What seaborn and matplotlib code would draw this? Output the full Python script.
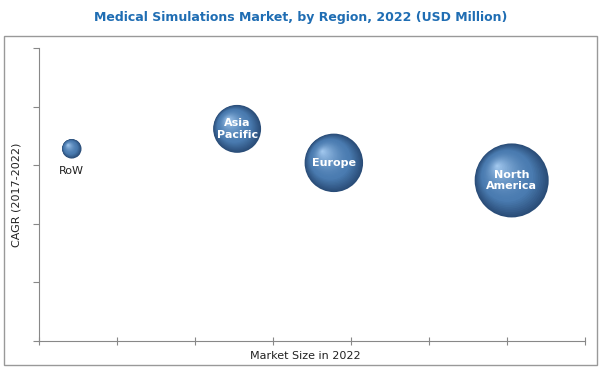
import numpy as np
import pandas as pd
import matplotlib
matplotlib.use('Agg')
import matplotlib.pyplot as plt
import matplotlib.transforms as mtransforms
from matplotlib.colors import to_rgb
from matplotlib.patches import Rectangle
import seaborn as sns

# values (axes carry no tick labels, so units are estimates)
regions = ['RoW', 'Asia Pacific', 'Europe', 'North America']
labels = ['RoW', 'Asia\nPacific', 'Europe', 'North\nAmerica']
market_size = [84, 508, 756, 1212]      # USD million, 2022
cagr = [16.4, 18.1, 15.2, 13.7]         # % 2017-2022
x_ticks = [0, 200, 400, 600, 800, 1000, 1200, 1400]
y_ticks = [0, 5, 10, 15, 20, 25]

df = pd.DataFrame({'region': regions, 'size': market_size, 'cagr': cagr, 'label': labels})

sns.set_style('white')
plt.rcParams['font.family'] = ['DejaVu Sans']

fig = plt.figure(figsize=(6.02, 3.75), dpi=100)
ax = fig.add_axes([39 / 602, 34 / 375, 546 / 602, 293 / 375])

max_s = 2840  # marker area (pt^2) for the largest bubble
sns.scatterplot(data=df, x='size', y='cagr', size='size', sizes=(0, max_s),
                size_norm=(0, max(market_size)), color='#2a4d78', edgecolor='none',
                legend=False, ax=ax, zorder=2)

# fake the 3D shading with stacked, shrinking, lighter discs
edge = np.array(to_rgb('#2a4d78'))
body = np.array(to_rgb('#4a7bb0'))
light = np.array(to_rgb('#a8cdf2'))
n_layers = 30
for _, row in df.iterrows():
    s = max_s * row['size'] / max(market_size)
    r_pt = np.sqrt(s) / 2
    for k in range(1, n_layers):
        frac = 1 - k / n_layers
        if frac > 0.7:
            t = (1 - frac) / 0.3
            col = edge + (body - edge) * t
        else:
            t = ((0.7 - frac) / 0.7) ** 1.6
            col = body + (light - body) * t
        shift = 0.4 * r_pt * (1 - frac)
        off = mtransforms.ScaledTranslation(-shift / 72, shift / 72, fig.dpi_scale_trans)
        ax.scatter([row['size']], [row['cagr']], s=s * frac ** 2, color=col,
                   edgecolors='none', transform=ax.transData + off, zorder=3)

for _, row in df.iterrows():
    if row['region'] == 'RoW':
        ax.annotate(row['label'], (row['size'], row['cagr']), xytext=(0, -16),
                    textcoords='offset points', ha='center', va='center',
                    fontsize=8, color='#222222', zorder=5)
    else:
        ax.text(row['size'], row['cagr'], row['label'], ha='center', va='center',
                fontsize=8, fontweight='bold', color='white', linespacing=1.2, zorder=5)

ax.set_xlim(x_ticks[0], x_ticks[-1])
ax.set_ylim(y_ticks[0], y_ticks[-1])
ax.set_xticks(x_ticks)
ax.set_yticks(y_ticks)
ax.set_xticklabels([])
ax.set_yticklabels([])
ax.tick_params(axis='y', direction='out', length=4, width=0.8, color='#888888', left=True)
ax.tick_params(axis='x', direction='inout', length=6, width=0.8, color='#888888', bottom=True)
for side in ['top', 'right']:
    ax.spines[side].set_visible(False)
for side in ['left', 'bottom']:
    ax.spines[side].set_color('#888888')
    ax.spines[side].set_linewidth(0.8)

ax.set_xlabel('Market Size in 2022', fontsize=8, color='#222222', labelpad=4)
ax.set_ylabel('CAGR (2017-2022)', fontsize=8, color='#222222', labelpad=10)
ax.xaxis.set_label_coords((305 - 39) / 546, -0.035)
ax.yaxis.set_label_coords(-(39 - 22) / 546, 0.5)

fig.text(0.5, 1 - 18 / 375, 'Medical Simulations Market, by Region, 2022 (USD Million)',
         ha='center', va='center', fontsize=9, fontweight='bold', color='#1f6db3')

fig.patches.append(Rectangle((4 / 602, 10 / 375), 593 / 602, 329 / 375,
                             transform=fig.transFigure, fill=False,
                             edgecolor='#999999', linewidth=1))

fig.savefig('out.png', dpi=100)
